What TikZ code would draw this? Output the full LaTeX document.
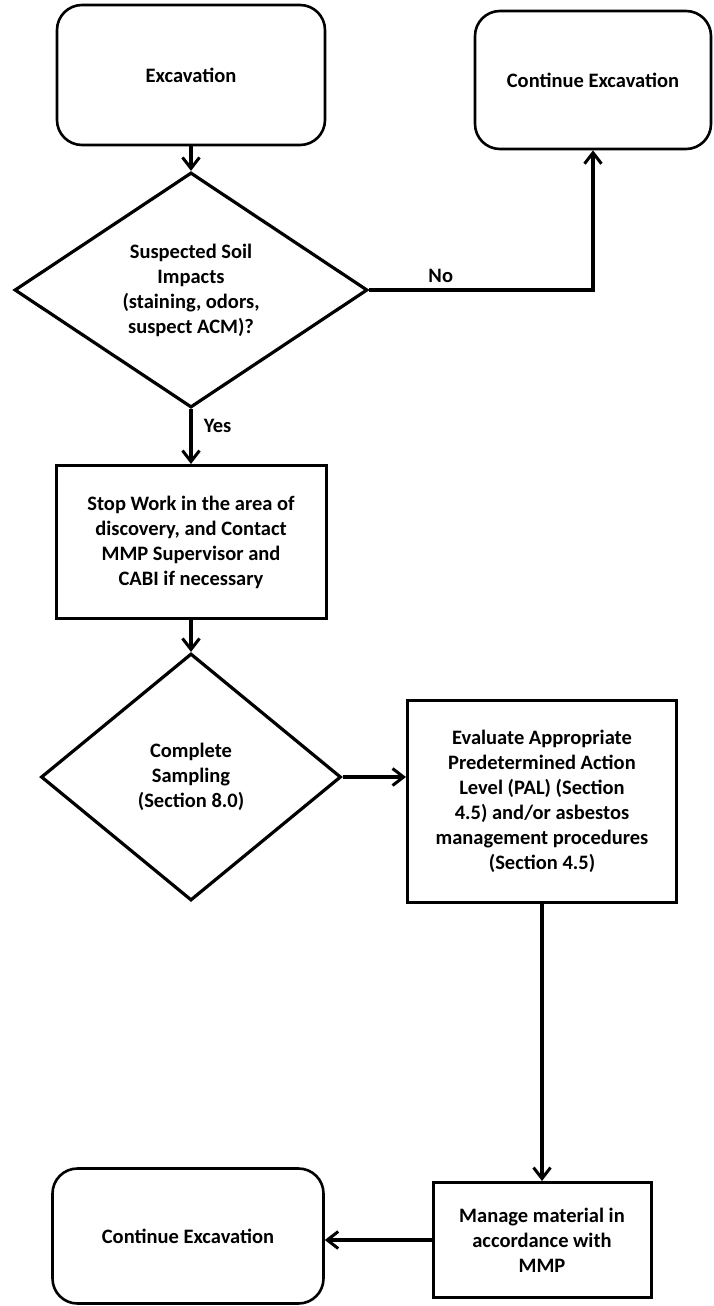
\documentclass[tikz,border=0pt]{standalone}
\usepackage{fontspec}
\setmainfont{Carlito}
\usetikzlibrary{shapes.geometric,arrows.meta}

\begin{document}
\begin{tikzpicture}[x=1pt, y=-1pt,
        every node/.style={font=\bfseries\fontsize{20.5}{25}\selectfont, align=center, inner sep=0pt},
        rbox/.style={draw, line width=2.6pt, rounded corners=25pt},
        sbox/.style={draw, line width=3pt},
        dec/.style={draw, diamond, line width=3.2pt},
        arr/.style={line width=3.6pt, -{Straight Barb[length=11pt, width=17pt, line width=3pt]}}]
        \useasboundingbox (0,0) rectangle (713,1306);

        % Top row
        \node[rbox, minimum width=268pt, minimum height=140pt] (exc) at (191,75) {Excavation};
        \node[rbox, minimum width=236pt, minimum height=138pt] (contA) at (593,80) {Continue Excavation};

        % Left column
        \node[dec, minimum width=353pt, minimum height=235pt, shape aspect=1.5] (soil) at (191,290)
            {Suspected Soil\\Impacts\\(staining, odors,\\suspect ACM)?};
        \node[sbox, minimum width=270pt, minimum height=153pt] (stop) at (191,542)
            {Stop Work in the area of\\discovery, and Contact\\MMP Supervisor and\\CABI if necessary};
        \node[dec, minimum width=300pt, minimum height=247pt, shape aspect=1.2] (samp) at (191,777)
            {Complete\\Sampling\\(Section 8.0)};

        % Right column
        \node[sbox, minimum width=269pt, minimum height=202pt] (pal) at (542,801)
            {Evaluate Appropriate\\Predetermined Action\\Level (PAL) (Section\\4.5) and/or asbestos\\management procedures\\(Section 4.5)};
        \node[sbox, minimum width=218pt, minimum height=115pt] (manage) at (542,1240)
            {Manage material in\\accordance with\\MMP};

        % Bottom
        \node[rbox, minimum width=271pt, minimum height=135pt] (contB) at (188,1236) {Continue Excavation};

        % Connectors
        \draw[arr] (exc) -- (soil);
        \draw[arr] (soil.east) -| node[pos=0.16, above=6pt] {No} (contA.south);
        \draw[arr] (soil) -- node[pos=0.3, right=11pt] {Yes} (stop);
        \draw[arr] (stop) -- (samp);
        \draw[arr] (samp.east) -- (samp.east -| pal.west);
        \draw[arr] (pal.south) -- (manage.north);
        \draw[arr] (manage.west) -- (manage.west -| contB.east);
    \end{tikzpicture}
\end{document}
